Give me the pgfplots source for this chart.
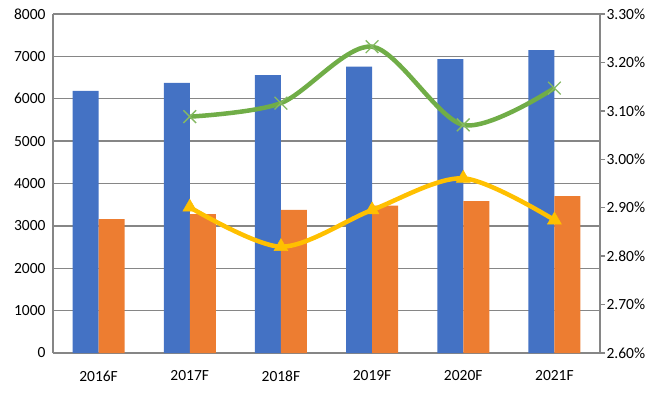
\documentclass[border=0pt]{standalone}
\usepackage{pgfplots}
\pgfplotsset{compat=1.18}
\usepackage{fontspec}
\setmainfont{Carlito}
\definecolor{cblue}{HTML}{4472C4}
\definecolor{corange}{HTML}{ED7D31}
\definecolor{cgreen}{HTML}{70AD47}
\definecolor{cyellow}{HTML}{FFC000}
\definecolor{cgrid}{HTML}{868686}
\begin{document}
\begin{tikzpicture}
\path[use as bounding box] (-53pt,-40pt) rectangle (607pt,353pt);
\begin{axis}[
  scale only axis, width=547pt, height=339pt,
  at={(0pt,0pt)}, anchor=south west,
  xmin=-0.5, xmax=5.5, ymin=0, ymax=8000,
  ybar=0pt, bar width=26pt,
  xtick={0,1,2,3,4,5},
  xticklabels={2016F,2017F,2018F,2019F,2020F,2021F},
  ytick={0,1000,2000,3000,4000,5000,6000,7000,8000},
  ymajorgrids, grid style={color=cgrid, line width=1.4pt},
  axis x line*=bottom, axis y line*=left,
  axis line style={color=cgrid, line width=1.4pt},
  tick style={draw=none},
  tick label style={font=\fontsize{15.5}{17}\selectfont},
  xticklabel style={yshift=-10pt},
  yticklabel style={xshift=-4pt},
  /pgf/number format/assume math mode=true,
  /pgf/number format/1000 sep={},
  scaled y ticks=false,
]
\addplot[fill=cblue, draw=none] coordinates {(0,6185) (1,6372) (2,6560) (3,6757) (4,6938) (5,7150)};
\addplot[fill=corange, draw=none] coordinates {(0,3162) (1,3280) (2,3375) (3,3476) (4,3587) (5,3705)};
\end{axis}
\begin{axis}[
  scale only axis, width=547pt, height=339pt,
  at={(0pt,0pt)}, anchor=south west,
  xmin=-0.5, xmax=5.5, ymin=2.6, ymax=3.3,
  axis x line=none, axis y line*=right,
  axis line style={color=cgrid, line width=1.4pt},
  ytick={2.6,2.7,2.8,2.9,3.0,3.1,3.2,3.3},
  yticklabel={\pgfmathprintnumber[fixed,fixed zerofill,precision=2]{\tick}\%},
  /pgf/number format/assume math mode=true,
  major tick length=5pt, tick align=outside,
  tick style={color=cgrid, line width=1.4pt},
  tick label style={font=\fontsize{15.5}{17}\selectfont},
  yticklabel style={xshift=-2pt},
]
\addplot[color=cgreen, line width=4.5pt, smooth, tension=0.5, mark=x, mark size=9pt, mark options={line width=1.3pt, color=cgreen!85!white}] coordinates {(1,3.088) (2,3.116) (3,3.2325) (4,3.071) (5,3.147)};
\addplot[color=cyellow, line width=4.5pt, smooth, tension=0.5, mark=triangle*, mark size=8pt, mark options={line width=0.5pt, fill=cyellow}] coordinates {(1,2.901) (2,2.8195) (3,2.8953) (4,2.9607) (5,2.8746)};
\end{axis}
\end{tikzpicture}
\end{document}
